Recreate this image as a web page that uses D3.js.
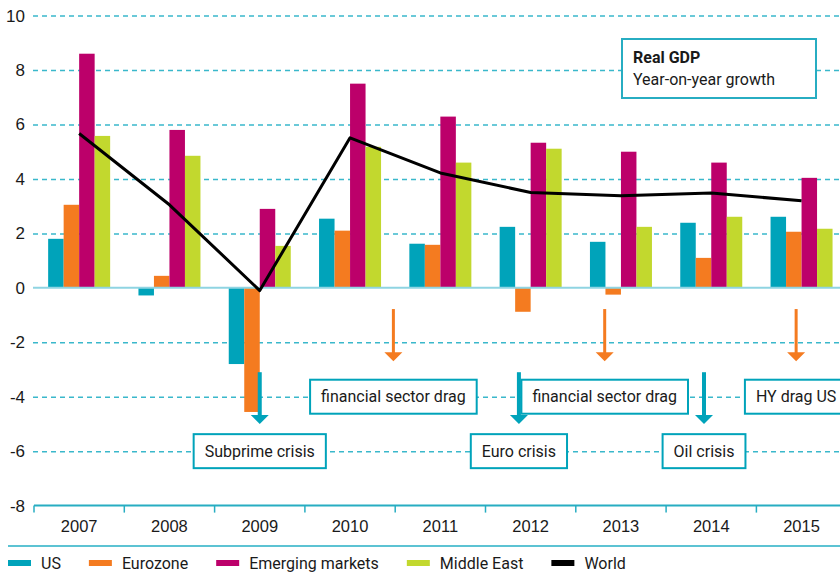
<!DOCTYPE html>
<html>
<head>
<meta charset="utf-8">
<script src="https://cdn.jsdelivr.net/npm/d3@7"></script>
<style>
  body { margin: 0; background: #fff; }
  svg { display: block; font-family: Roboto, "Noto Sans", sans-serif; }
</style>
</head>
<body>
<div id="chart"></div>
<script>
// --- data ---
const years = ["2007", "2008", "2009", "2010", "2011", "2012", "2013", "2014", "2015"];
const seriesNames = ["US", "Eurozone", "Emerging markets", "Middle East"];
const usGrowth       = [1.8, -0.28, -2.8, 2.54, 1.62, 2.24, 1.69, 2.39, 2.61];
const eurozoneGrowth = [3.05, 0.44, -4.56, 2.1, 1.58, -0.88, -0.25, 1.1, 2.06];
const emGrowth       = [8.6, 5.8, 2.9, 7.5, 6.29, 5.33, 5.0, 4.6, 4.04];
const meGrowth       = [5.58, 4.85, 1.54, 5.18, 4.6, 5.11, 2.24, 2.61, 2.17];
const worldGrowth    = [5.67, 3.05, -0.1, 5.51, 4.22, 3.5, 3.38, 3.48, 3.2];
const yTicks = [10, 8, 6, 4, 2, 0, -2, -4, -6, -8];
// annotations: at (fractional) year, arrow colour key, label
const annoYears  = [2009, 2010.48, 2011.87, 2012.82, 2013.92, 2014.94];
const annoLabels = ["Subprime crisis", "financial sector drag", "Euro crisis", "financial sector drag", "Oil crisis", "HY drag US"];
const annoSeries = ["US", "Eurozone", "US", "Eurozone", "US", "Eurozone"];

const colors = {"US": "#00a3ba", "Eurozone": "#f47b20", "Emerging markets": "#bc006a", "Middle East": "#c2d82e", "World": "#000"};
const teal = "#00a3ba";

const W = 840, H = 578;
const svg = d3.select("#chart").append("svg").attr("width", W).attr("height", H);

const x0 = d3.scaleBand().domain(years).range([34, 846.7]).padding(0);
const groupW = 62;
const x1 = d3.scaleBand().domain(seriesNames).range([0, groupW]);
const y = d3.scaleLinear().domain([-8, 10]).range([505.6, 15.6]);
const xYear = d3.scaleLinear().domain([2007, 2008]).range([x0("2007") + x0.bandwidth() / 2, x0("2008") + x0.bandwidth() / 2]);

// gridlines + y labels
const yAxis = svg.append("g").attr("transform", "translate(33,0)")
  .call(d3.axisLeft(y).tickValues(yTicks).tickSize(-(W - 33)).tickPadding(8).tickFormat(d => String(d)));
yAxis.select(".domain").remove();
yAxis.selectAll(".tick line")
  .attr("stroke", "#3ab8cb")
  .attr("stroke-width", 1.5)
  .attr("stroke-dasharray", "5,4")
  .filter(d => d === 0 || d === -8).remove();
yAxis.selectAll(".tick text").attr("fill", "#1a1a1a").style("font-size", "17px").style("font-weight", 500);

// title box
svg.append("rect").attr("x", 622).attr("y", 39).attr("width", 194).attr("height", 59)
  .attr("fill", "#fff").attr("stroke", "#27adc2").attr("stroke-width", 2);
svg.append("text").attr("x", 633).attr("y", 63).text("Real GDP")
  .style("font-size", "16px").style("font-weight", "bold").attr("fill", "#1a1a1a");
svg.append("text").attr("x", 633).attr("y", 85).text("Year-on-year growth")
  .style("font-size", "16px").attr("fill", "#1a1a1a");

// bars
const values = {"US": usGrowth, "Eurozone": eurozoneGrowth, "Emerging markets": emGrowth, "Middle East": meGrowth};
const barData = [];
years.forEach((yr, i) => seriesNames.forEach(s => barData.push({year: yr, series: s, value: values[s][i]})));
svg.append("g").selectAll("rect").data(barData).enter().append("rect")
  .attr("x", d => x0(d.year) + (x0.bandwidth() - groupW) / 2 + x1(d.series))
  .attr("width", x1.bandwidth())
  .attr("y", d => y(Math.max(0, d.value)))
  .attr("height", d => Math.abs(y(d.value) - y(0)))
  .attr("fill", d => colors[d.series]);

// zero line
svg.append("line").attr("x1", 33).attr("x2", W).attr("y1", y(0)).attr("y2", y(0))
  .attr("stroke", "#8fd4e2").attr("stroke-width", 2);

// world line
const line = d3.line().x((d, i) => x0(years[i]) + x0.bandwidth() / 2).y(d => y(d));
svg.append("path").datum(worldGrowth).attr("d", line)
  .attr("fill", "none").attr("stroke", "#000").attr("stroke-width", 3).attr("stroke-linejoin", "round");

// annotations
const annoG = svg.append("g");
annoYears.forEach((yr, i) => {
  const ax = xYear(yr);
  const isUS = annoSeries[i] === "US";
  const c = colors[annoSeries[i]];
  const yStart = isUS ? y(-3.1) : y(-0.78);
  const yTip = isUS ? y(-5.0) : y(-2.7);
  annoG.append("line").attr("x1", ax).attr("x2", ax).attr("y1", yStart).attr("y2", yTip - 8)
    .attr("stroke", c).attr("stroke-width", isUS ? 4 : 3);
  annoG.append("path")
    .attr("d", `M${ax - 9},${yTip - 9}L${ax + 9},${yTip - 9}L${ax},${yTip}Z`)
    .attr("fill", c);
  const by = isUS ? y(-6) : y(-4);
  const g = annoG.append("g");
  const t = g.append("text").attr("x", ax).attr("y", by).attr("dy", "0.35em")
    .attr("text-anchor", "middle").style("font-size", "16px").attr("fill", "#1a1a1a")
    .text(annoLabels[i]);
  const tw = t.node().getComputedTextLength();
  g.insert("rect", "text").attr("x", ax - tw / 2 - 11).attr("y", by - 17)
    .attr("width", tw + 22).attr("height", 34)
    .attr("fill", "#fff").attr("stroke", teal).attr("stroke-width", 2);
});

// x axis
const xAxisY = y(-8);
svg.append("line").attr("x1", 34).attr("x2", W).attr("y1", xAxisY).attr("y2", xAxisY)
  .attr("stroke", "#27adc2").attr("stroke-width", 2);
svg.append("g").selectAll("line").data(years).enter().append("line")
  .attr("x1", d => x0(d)).attr("x2", d => x0(d))
  .attr("y1", xAxisY).attr("y2", xAxisY + 7)
  .attr("stroke", "#27adc2").attr("stroke-width", 1.5);
const xAxis = svg.append("g").attr("transform", `translate(0,${xAxisY})`)
  .call(d3.axisBottom(x0).tickSize(0).tickPadding(15));
xAxis.select(".domain").remove();
xAxis.selectAll(".tick text").attr("fill", "#1a1a1a").style("font-size", "16.5px");

// separator
svg.append("line").attr("x1", 8).attr("x2", W).attr("y1", 546).attr("y2", 546)
  .attr("stroke", "#5cc3d3").attr("stroke-width", 2);

// legend
const legendItems = seriesNames.concat(["World"]);
let lx = 8;
legendItems.forEach(name => {
  const g = svg.append("g");
  g.append("rect").attr("x", lx).attr("y", 560).attr("width", 23).attr("height", 6).attr("fill", colors[name]);
  const t = g.append("text").attr("x", lx + 33).attr("y", 563).attr("dy", "0.35em")
    .style("font-size", "16px").attr("fill", "#1a1a1a").text(name);
  lx += 33 + t.node().getComputedTextLength() + 28;
});
</script>
</body>
</html>
